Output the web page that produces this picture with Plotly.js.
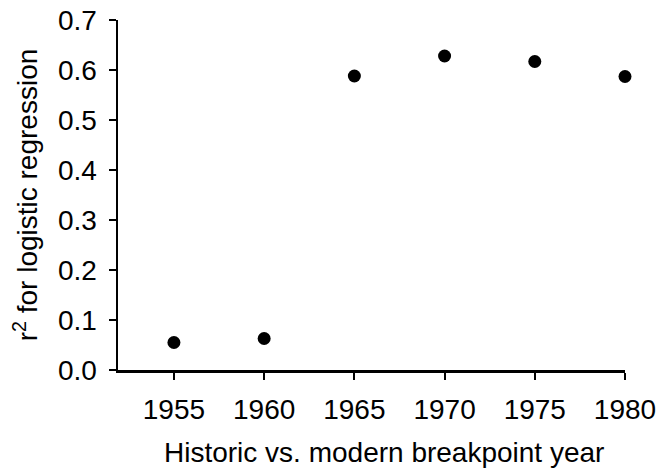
<!DOCTYPE html>
<html>
<head>
<meta charset="utf-8">
<script src="https://cdn.plot.ly/plotly-3.0.1.min.js"></script>
<style>html,body{margin:0;padding:0;background:#fff;}#chart{width:668px;height:469px;}</style>
</head>
<body>
<div id="chart"></div>
<script>
var years = [1955, 1960, 1965, 1970, 1975, 1980];
var r2 = [0.055, 0.063, 0.588, 0.628, 0.617, 0.587];
var yTicks = [0, 0.1, 0.2, 0.3, 0.4, 0.5, 0.6, 0.7];
var yTickLabels = ["0.0", "0.1", "0.2", "0.3", "0.4", "0.5", "0.6", "0.7"];
var xTitle = 'Historic vs. modern breakpoint year';
var yTitle = 'r<sup>2</sup> for logistic regression';

var trace = {
  x: years, y: r2, type: 'scatter', mode: 'markers', cliponaxis: false,
  marker: {color: '#000', size: 13}
};
var layout = {
  width: 668, height: 469,
  margin: {l: 118, r: 43, t: 20, b: 99},
  paper_bgcolor: '#fff', plot_bgcolor: '#fff',
  font: {family: 'Liberation Sans, Arial, sans-serif', color: '#000', size: 28},
  showlegend: false,
  xaxis: {
    range: [1951.9, 1980], tickvals: years, ticktext: years.map(String),
    showgrid: false, zeroline: false, showline: true, linecolor: '#000', linewidth: 2.5,
    ticks: 'outside', ticklen: 7, tickwidth: 2, tickcolor: '#000',
    tickfont: {size: 28}, ticklabelstandoff: 6
  },
  yaxis: {
    range: [0, 0.7], tickvals: yTicks, ticktext: yTickLabels,
    showgrid: false, zeroline: false, showline: true, linecolor: '#000', linewidth: 2.5,
    ticks: 'outside', ticklen: 7, tickwidth: 2, tickcolor: '#000',
    tickfont: {size: 28}, ticklabelstandoff: 6,
    title: {text: yTitle, font: {size: 28}, standoff: 12}
  },
  annotations: [{
    text: xTitle, xref: 'paper', yref: 'paper', x: 0.525, y: -0.235,
    xanchor: 'center', yanchor: 'middle', showarrow: false, font: {size: 28}
  }]
};
Plotly.newPlot('chart', [trace], layout, {displayModeBar: false, staticPlot: true});
</script>
</body>
</html>
